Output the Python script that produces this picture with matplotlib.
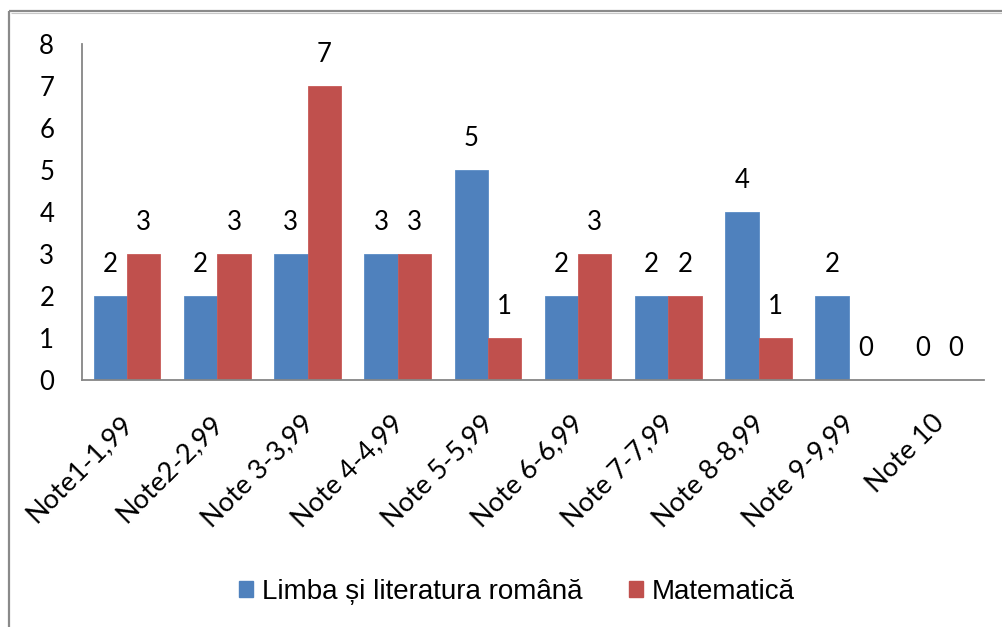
import matplotlib
matplotlib.use("Agg")
import matplotlib.pyplot as plt
from matplotlib.patches import Patch
from matplotlib.lines import Line2D
import matplotlib.transforms as mtransforms
import numpy as np

categories = ["Note1-1,99", "Note2-2,99", "Note 3-3,99", "Note 4-4,99", "Note 5-5,99",
              "Note 6-6,99", "Note 7-7,99", "Note 8-8,99", "Note 9-9,99", "Note 10"]
romana = [2, 2, 3, 3, 5, 2, 2, 4, 2, 0]
matematica = [3, 3, 7, 3, 1, 3, 2, 1, 0, 0]
series_names = ["Limba și literatura română", "Matematică"]
yticks = [0, 1, 2, 3, 4, 5, 6, 7, 8]

BLUE = "#4F81BD"
RED = "#C0504D"
AXIS = "#868686"

W, H = 1003, 627
fig = plt.figure(figsize=(W / 100, H / 100), dpi=100)
fig.patch.set_facecolor("white")

# outer chart border (only top and left visible)
fig.add_artist(Line2D([9 / W, 9 / W], [0, 1 - 11 / H], transform=fig.transFigure,
                      color="#8a8a8a", lw=1.6, solid_capstyle="butt"))
fig.add_artist(Line2D([9 / W, 1], [1 - 11 / H, 1 - 11 / H], transform=fig.transFigure,
                      color="#8a8a8a", lw=1.6, solid_capstyle="butt"))
fig.add_artist(Line2D([10.5 / W, 1], [1 - 12.8 / H, 1 - 12.8 / H], transform=fig.transFigure,
                      color="#c8c8c8", lw=0.8, solid_capstyle="butt"))

ax = fig.add_axes([82 / W, 1 - 380 / H, (984 - 82) / W, (380 - 43.5) / H])

x = np.arange(len(categories))
bw = 0.37
b1 = ax.bar(x - bw / 2, romana, bw, color=BLUE, edgecolor="#5a8cc6", linewidth=0.6)
b2 = ax.bar(x + bw / 2, matematica, bw, color=RED, edgecolor="#c85a57", linewidth=0.6)

ax.set_xlim(-0.5, len(categories) - 0.5)
ax.set_ylim(0, 8)
ax.set_yticks(yticks)
ax.set_yticklabels([str(v) for v in yticks], fontfamily="Lato", fontsize=18.5, color="black")
ax.tick_params(axis="y", length=0, pad=20)
ax.set_xticks(x)
ax.set_xticklabels(categories, rotation=45, ha="right", va="top", rotation_mode="anchor",
                   fontfamily="Lato", fontsize=19.5, color="black")
ax.tick_params(axis="x", length=0, pad=22)
shift = mtransforms.ScaledTranslation(-7 / 100, 0, fig.dpi_scale_trans)
for lbl in ax.get_xticklabels():
    lbl.set_transform(lbl.get_transform() + shift)

for s in ["top", "right"]:
    ax.spines[s].set_visible(False)
for s in ["left", "bottom"]:
    ax.spines[s].set_color(AXIS)
    ax.spines[s].set_linewidth(1.3)

for bars, vals in ((b1, romana), (b2, matematica)):
    for rect, v in zip(bars, vals):
        ax.annotate(str(v), (rect.get_x() + rect.get_width() / 2, v),
                    xytext=(0, 19), textcoords="offset pixels",
                    ha="center", va="bottom", fontfamily="Lato", fontsize=18.5, color="black")

handles = [Patch(facecolor=BLUE, edgecolor=BLUE), Patch(facecolor=RED, edgecolor=RED)]
fig.legend(handles, series_names, loc="center", bbox_to_anchor=(517 / W, 1 - 592 / H),
           ncol=2, frameon=False, prop={"family": "Liberation Sans", "size": 20},
           handlelength=0.5, handleheight=0.5, handletextpad=0.3, columnspacing=1.7)

fig.savefig("out.png", dpi=100)
